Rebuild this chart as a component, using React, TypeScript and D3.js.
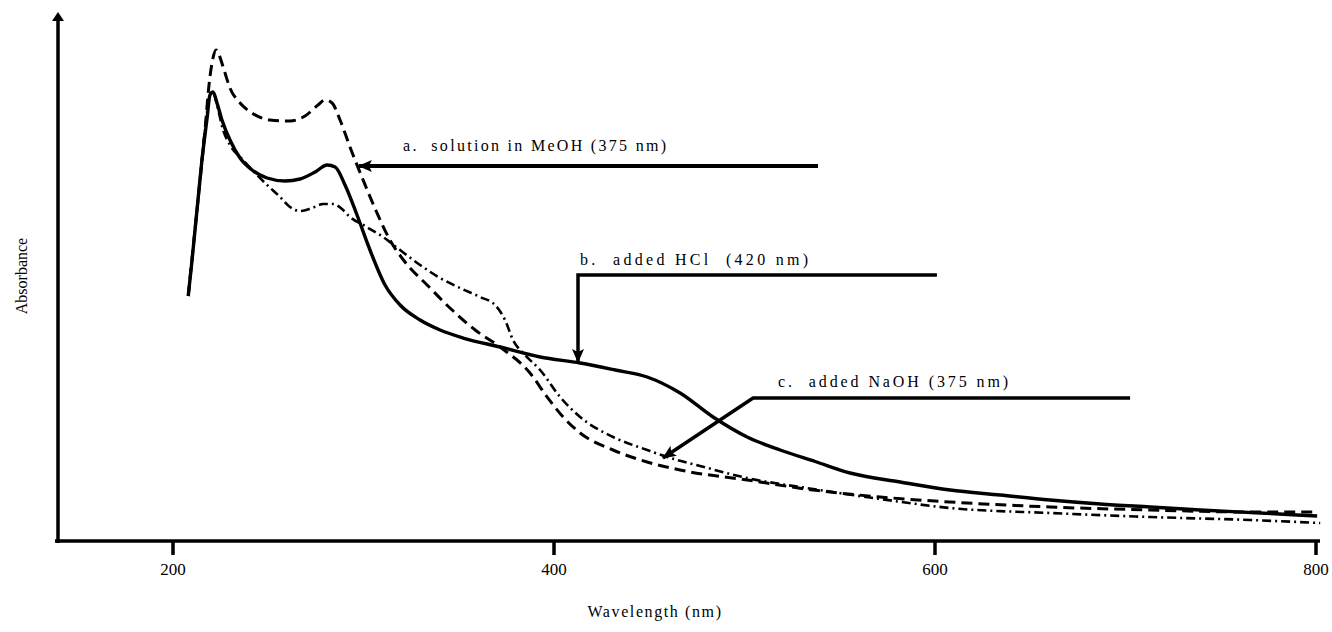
import React from "react";
import * as d3 from "d3";

// X axis tick values (nm)
const xTicks = [200, 400, 600, 800];

// a. solution in MeOH (dashed)
const wlMeOH = [208, 212.6, 216.8, 218.9, 221, 222.6, 224.2, 226.8, 229.9, 235.2, 241.5, 250.9, 261.4, 269.3, 276.1, 279.8, 283.5, 287.7, 292.9, 299.8, 307.1, 313.9, 321.8, 333.4, 345.4, 358.6, 371.7, 387.4, 396.4, 404.8, 413.7, 431, 448.9, 466.2, 501.4, 536, 571.2, 607.9, 660.4, 712.9, 765.4, 800.6];
const absMeOH = [0.49, 0.662, 0.822, 0.912, 0.966, 0.982, 0.972, 0.942, 0.906, 0.876, 0.856, 0.842, 0.84, 0.85, 0.872, 0.882, 0.876, 0.842, 0.788, 0.722, 0.656, 0.602, 0.558, 0.512, 0.466, 0.422, 0.388, 0.336, 0.288, 0.248, 0.216, 0.182, 0.158, 0.142, 0.122, 0.102, 0.088, 0.078, 0.068, 0.062, 0.058, 0.058];

// b. added HCl (solid)
const wlHCl = [208, 210, 212.6, 215.2, 217.9, 219.4, 221, 223.1, 225.7, 229.9, 235.2, 241.5, 249.4, 258.8, 266.7, 274.6, 280.9, 285.1, 290.3, 296.6, 303.4, 311.3, 319.2, 329.7, 340.2, 352.3, 371.7, 392.7, 413.7, 432.1, 448.9, 466.2, 483.5, 501.4, 518.7, 537.1, 555.4, 581.7, 607.9, 634.2, 660.4, 686.7, 712.9, 739.2, 770.7, 800.6];
const absHCl = [0.49, 0.562, 0.662, 0.762, 0.846, 0.892, 0.898, 0.876, 0.842, 0.802, 0.766, 0.742, 0.726, 0.72, 0.724, 0.738, 0.752, 0.748, 0.712, 0.652, 0.582, 0.512, 0.472, 0.442, 0.422, 0.406, 0.388, 0.368, 0.356, 0.342, 0.328, 0.296, 0.248, 0.208, 0.182, 0.159, 0.136, 0.118, 0.102, 0.092, 0.082, 0.074, 0.068, 0.062, 0.056, 0.05];

// c. added NaOH (dash-dot)
const wlNaOH = [208, 212.6, 216.8, 219.4, 221, 223.1, 226.3, 229.9, 236.8, 243.1, 249.4, 256.2, 261.4, 266.7, 273, 278.8, 284, 288.7, 292.9, 300.8, 310.3, 319.2, 329.7, 340.2, 350.7, 361.2, 369.1, 374.3, 378.5, 384.8, 392.7, 403.2, 413.7, 431, 448.9, 459.4, 476.7, 501.4, 536, 571.2, 607.9, 660.4, 712.9, 765.4, 802.2];
const absNaOH = [0.49, 0.662, 0.822, 0.892, 0.898, 0.872, 0.822, 0.792, 0.762, 0.736, 0.712, 0.688, 0.668, 0.66, 0.666, 0.674, 0.674, 0.664, 0.648, 0.63, 0.608, 0.582, 0.552, 0.526, 0.506, 0.488, 0.472, 0.442, 0.402, 0.372, 0.342, 0.288, 0.248, 0.208, 0.182, 0.168, 0.15, 0.126, 0.104, 0.084, 0.066, 0.056, 0.048, 0.042, 0.036];

// annotation texts
const labelTexts = ["a.  solution in MeOH (375 nm)", "b.  added HCl  (420 nm)", "c.  added NaOH (375 nm)"];
// annotation leader vertices (wavelength, absorbance), last vertex = arrow tip
const leaderA = [[538.6, 0.75], [297.6, 0.75]];
const leaderB = [[601, 0.532], [412.6, 0.532], [412.6, 0.358]];
const leaderC = [[702.4, 0.286], [504.5, 0.286], [457.2, 0.166]];

const W = 1332;
const H = 632;
const FONT = "'Liberation Serif', 'Times New Roman', serif";

export default function App() {
  const x = d3.scaleLinear().domain([200, 800]).range([173, 1316]);
  const y = d3.scaleLinear().domain([0, 1]).range([541, 41]);
  const line = d3
    .line<[number, number]>()
    .x((d) => x(d[0]))
    .y((d) => y(d[1]))
    .curve(d3.curveMonotoneX);
  const plain = d3
    .line<number[]>()
    .x((d) => x(d[0]))
    .y((d) => y(d[1]));

  const zip = (a: number[], b: number[]) => a.map((v, i) => [v, b[i]] as [number, number]);

  const axisY = y(0);
  const axisX = 58;

  const labels = [
    { text: labelTexts[0], x: x(leaderA[0][0]) - 415, y: y(leaderA[0][1]) - 15, len: 263 },
    { text: labelTexts[1], x: x(leaderB[1][0]) + 2, y: y(leaderB[0][1]) - 10, len: 228 },
    { text: labelTexts[2], x: x(leaderC[1][0]) + 25, y: y(leaderC[0][1]) - 11, len: 230 },
  ];

  return (
    <svg
      width={W}
      height={H}
      style={{ position: "absolute", left: 0, top: 0, background: "#fff" }}
    >
      <defs>
        <marker
          id="ah"
          markerUnits="userSpaceOnUse"
          markerWidth={14}
          markerHeight={12}
          refX={13}
          refY={6}
          orient="auto"
        >
          <path d="M0,0 L14,6 L0,12 L3,6 z" fill="#000" />
        </marker>
      </defs>
      <rect x={0} y={0} width={W} height={H} fill="#fff" />

      {/* Y axis with arrow */}
      <line x1={axisX} y1={axisY + 2} x2={axisX} y2={20} stroke="#000" strokeWidth={3.5} />
      <path d={`M${axisX},12 L${axisX + 6},21 L${axisX - 6},21 z`} fill="#000" />

      {/* X axis */}
      <line x1={axisX - 3} y1={axisY} x2={1320} y2={axisY} stroke="#000" strokeWidth={3.5} />
      {xTicks.map((t) => (
        <g key={t}>
          <line x1={x(t)} y1={axisY} x2={x(t)} y2={axisY + 14} stroke="#000" strokeWidth={3.5} />
          <text
            x={x(t)}
            y={axisY + 34}
            textAnchor="middle"
            fontFamily={FONT}
            fontSize={17}
            fill="#000"
          >
            {t}
          </text>
        </g>
      ))}

      {/* axis titles */}
      <text
        x={655}
        y={617}
        textAnchor="middle"
        fontFamily={FONT}
        fontSize={16}
        letterSpacing={1.6}
        fill="#000"
      >
        Wavelength (nm)
      </text>
      <text
        transform="translate(27,276) rotate(-90)"
        textAnchor="middle"
        fontFamily={FONT}
        fontSize={16}
        fill="#000"
      >
        Absorbance
      </text>

      {/* spectra */}
      <path
        d={line(zip(wlNaOH, absNaOH)) || ""}
        fill="none"
        stroke="#000"
        strokeWidth={2.6}
        strokeDasharray="9 4 2 4"
      />
      <path
        d={line(zip(wlMeOH, absMeOH)) || ""}
        fill="none"
        stroke="#000"
        strokeWidth={3}
        strokeDasharray="11 6"
      />
      <path d={line(zip(wlHCl, absHCl)) || ""} fill="none" stroke="#000" strokeWidth={3.4} />

      {/* annotation leaders */}
      {[leaderA, leaderB, leaderC].map((pts, i) => (
        <path
          key={i}
          d={plain(pts) || ""}
          fill="none"
          stroke="#000"
          strokeWidth={i === 0 ? 4 : 3.5}
          markerEnd="url(#ah)"
        />
      ))}
      {labels.map((l, i) => (
        <text
          key={i}
          x={l.x}
          y={l.y}
          fontFamily={FONT}
          fontSize={16}
          textLength={l.len}
          lengthAdjust="spacing"
          fill="#000"
          style={{ whiteSpace: "pre" }}
        >
          {l.text}
        </text>
      ))}
    </svg>
  );
}
